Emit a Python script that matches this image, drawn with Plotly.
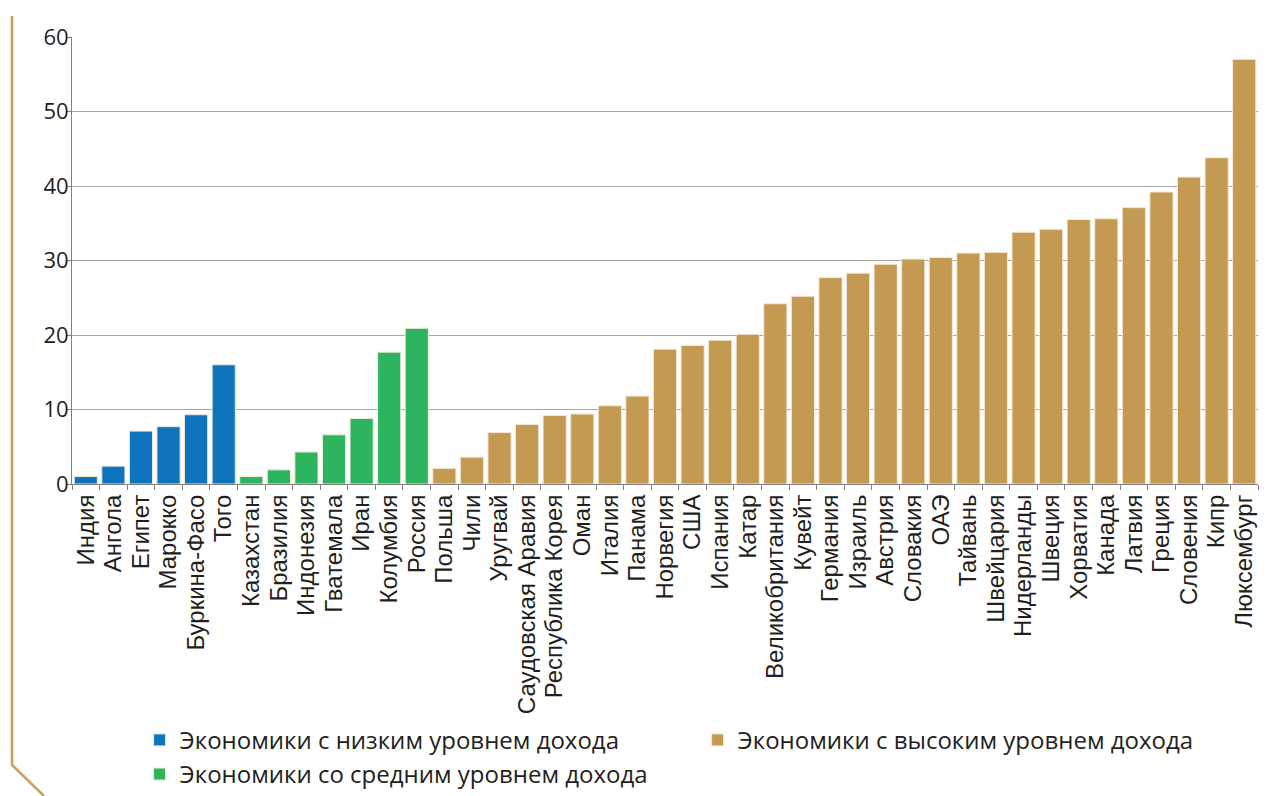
import plotly.graph_objects as go

low_countries = ["Индия", "Ангола", "Египет", "Марокко", "Буркина-Фасо", "Того"]
low_values = [1.0, 2.4, 7.1, 7.7, 9.3, 16.0]

mid_countries = ["Казахстан", "Бразилия", "Индонезия", "Гватемала", "Иран", "Колумбия", "Россия"]
mid_values = [1.0, 1.9, 4.3, 6.6, 8.8, 17.7, 20.9]

high_countries = ["Польша", "Чили", "Уругвай", "Саудовская Аравия", "Республика Корея", "Оман",
                  "Италия", "Панама", "Норвегия", "США", "Испания", "Катар", "Великобритания",
                  "Кувейт", "Германия", "Израиль", "Австрия", "Словакия", "ОАЭ", "Тайвань",
                  "Швейцария", "Нидерланды", "Швеция", "Хорватия", "Канада", "Латвия", "Греция",
                  "Словения", "Кипр", "Люксембург"]
high_values = [2.1, 3.6, 6.9, 8.0, 9.2, 9.4, 10.5, 11.8, 18.1, 18.6, 19.3, 20.1, 24.2,
               25.2, 27.7, 28.3, 29.5, 30.2, 30.4, 31.0, 31.1, 33.8, 34.2, 35.5, 35.6, 37.1, 39.2,
               41.2, 43.8, 57.0]

names = ["Экономики с низким уровнем дохода", "Экономики со средним уровнем дохода",
         "Экономики с высоким уровнем дохода"]
colors = ["#0E75BC", "#2DB45F", "#C49A53"]
y_ticks = [0, 10, 20, 30, 40, 50, 60]

categories = low_countries + mid_countries + high_countries

fig = go.Figure()
groups = [(low_countries, low_values, names[0], colors[0]),
          (high_countries, high_values, names[2], colors[2]),
          (mid_countries, mid_values, names[1], colors[1])]
for xs, ys, nm, col in groups:
    fig.add_trace(go.Bar(x=xs, y=ys, name=nm,
                         marker=dict(color=col, line=dict(color="#F3E9D8", width=1)),
                         width=0.84))

fig.update_layout(
    width=1278, height=788,
    margin=dict(l=64, r=28, t=29, b=312, autoexpand=False),
    paper_bgcolor="white", plot_bgcolor="white",
    barmode="overlay",
    font=dict(family="Open Sans, DejaVu Sans, sans-serif", size=19, color="#231F20"),
    showlegend=True,
    legend=dict(orientation="h", x=0.057, xanchor="left", y=-0.523, yanchor="top",
                entrywidth=513, entrywidthmode="pixels",
                font=dict(size=24, family="Open Sans, sans-serif"),
                itemwidth=30, tracegroupgap=0, traceorder="normal"),
    xaxis=dict(categoryorder="array", categoryarray=categories, tickangle=-90,
               tickmode="array", tickvals=categories, ticktext=categories,
               showline=True, linecolor="#808080", linewidth=1, ticks="outside",
               tickson="boundaries", ticklen=5, tickcolor="#808080",
               showgrid=False, range=[-0.5, len(categories) - 0.5], automargin=False,
               tickfont=dict(size=24, family="Liberation Sans, Arial, sans-serif")),
    yaxis=dict(range=[0, 60], tickvals=y_ticks, showline=True, linecolor="#808080",
               linewidth=1, ticks="outside", ticklen=4, tickcolor="#808080",
               showgrid=True, gridcolor="#A6A6A6", gridwidth=1, automargin=False,
               ticklabelstandoff=-6,
               tickfont=dict(size=22), zeroline=False),
    bargap=0.16,
)

# decorative frame line at the left
fig.add_shape(type="path", xref="paper", yref="paper",
              path="M -0.0506 1.047 L -0.0506 -0.6286 L -0.0236 -0.698",
              line=dict(color="#C9A05C", width=2.5))

fig.write_html("out.html")
